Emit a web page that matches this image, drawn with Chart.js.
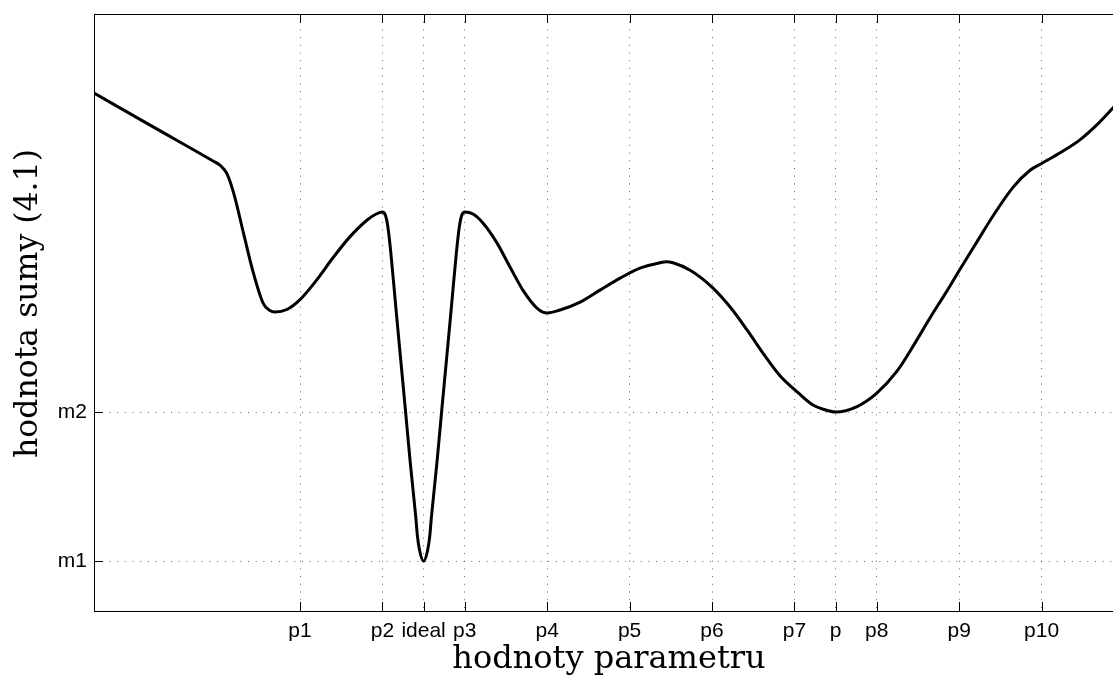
<!DOCTYPE html>
<html>
<head>
<meta charset="utf-8">
<script src="https://cdn.jsdelivr.net/npm/chart.js@4/dist/chart.umd.min.js"></script>
<style>
  html, body { margin: 0; padding: 0; background: #fff; overflow: hidden; width: 1113px; height: 676px; }
  canvas { display: block; }
</style>
</head>
<body>
<canvas id="c" width="1140" height="676" style="width:1140px;height:676px"></canvas>
<script>
// ---- data ----
const xValues = [0, 1.5, 2.9, 3.06, 3.22, 3.39, 3.63, 3.87, 4.11, 4.27, 4.39, 4.68, 5.0, 5.41, 5.80, 6.21, 6.63, 6.85, 7.0, 7.08, 7.13, 7.20, 7.32, 7.44, 7.56, 7.68, 7.81, 7.85, 7.90, 8.0, 8.10, 8.15, 8.19, 8.32, 8.44, 8.56, 8.68, 8.80, 8.87, 8.92, 9.0, 9.20, 9.44, 9.78, 10.10, 10.41, 10.75, 11.0, 11.31, 11.80, 12.28, 12.77, 13.25, 13.74, 13.90, 14.05, 14.47, 15.0, 15.44, 15.85, 16.24, 16.65, 17.06, 17.45, 17.72, 18.0, 18.52, 19.0, 19.49, 19.93, 20.29, 20.70, 21.02, 21.43, 21.82, 22.31, 22.72, 23.01, 23.45, 23.93, 24.34, 24.73, 25.0];
const yValues = [10.41, 9.70, 9.04, 8.96, 8.80, 8.40, 7.59, 6.79, 6.18, 6.04, 6.01, 6.06, 6.26, 6.66, 7.10, 7.52, 7.86, 7.98, 8.02, 7.94, 7.74, 7.24, 6.16, 5.09, 4.03, 2.95, 1.89, 1.51, 1.23, 1.0, 1.23, 1.51, 1.89, 2.95, 4.03, 5.09, 6.16, 7.24, 7.74, 7.94, 8.02, 7.98, 7.80, 7.40, 6.91, 6.45, 6.09, 5.99, 6.05, 6.21, 6.45, 6.69, 6.89, 7.00, 7.02, 7.00, 6.85, 6.51, 6.11, 5.65, 5.18, 4.73, 4.41, 4.14, 4.05, 4.0, 4.11, 4.38, 4.82, 5.39, 5.89, 6.43, 6.87, 7.42, 7.94, 8.52, 8.86, 9.00, 9.21, 9.47, 9.77, 10.11, 10.35];
const xTickValues = [5, 7, 8, 9, 11, 13, 15, 17, 18, 19, 21, 23];
const xTickLabels = ['p1', 'p2', 'ideal', 'p3', 'p4', 'p5', 'p6', 'p7', 'p', 'p8', 'p9', 'p10'];
const yTickValues = [1, 4];
const yTickLabels = ['m1', 'm2'];
const xTitle = 'hodnoty parametru';
const yTitle = 'hodnota sumy (4.1)';

const points = xValues.map((x, i) => ({ x, y: yValues[i] }));

const tickFont = { family: "'Liberation Sans', Arial, Helvetica, sans-serif", size: 21 };
const titleFamily = "'DejaVu Serif', serif";

const framePlugin = {
  id: 'frame',
  afterDatasetsDraw(chart) {
    const { ctx, chartArea: a, scales: { x, y } } = chart;
    ctx.save();
    ctx.setLineDash([]);
    ctx.strokeStyle = '#000';
    ctx.lineWidth = 1;
    ctx.strokeRect(a.left + 0.5, a.top + 0.5, a.right - a.left, a.bottom - a.top);
    const L = 9;
    ctx.beginPath();
    xTickValues.forEach(v => {
      const px = Math.round(x.getPixelForValue(v)) + 0.5;
      ctx.moveTo(px, a.bottom); ctx.lineTo(px, a.bottom - L);
      ctx.moveTo(px, a.top); ctx.lineTo(px, a.top + L);
    });
    yTickValues.forEach(v => {
      const py = Math.round(y.getPixelForValue(v)) + 0.5;
      ctx.moveTo(a.left, py); ctx.lineTo(a.left + L, py);
      ctx.moveTo(a.right, py); ctx.lineTo(a.right - L, py);
    });
    ctx.stroke();
    ctx.restore();
  },
  afterDraw(chart) {
    const { ctx, chartArea: a } = chart;
    ctx.save();
    ctx.fillStyle = '#000';
    ctx.font = "31.5px " + titleFamily;
    ctx.textAlign = 'center';
    ctx.textBaseline = 'middle';
    ctx.translate(29, (a.top + a.bottom) / 2 - 9);
    ctx.rotate(-Math.PI / 2);
    ctx.fillText(yTitle, 0, 0);
    ctx.restore();
  }
};

new Chart(document.getElementById('c'), {
  type: 'line',
  data: {
    datasets: [{
      data: points,
      borderColor: '#000',
      borderWidth: 3,
      pointRadius: 0,
      cubicInterpolationMode: 'monotone',
      fill: false
    }]
  },
  options: {
    responsive: false,
    animation: false,
    devicePixelRatio: 1,
    layout: { padding: { left: 0, top: 14, right: 16, bottom: 0 } },
    plugins: { legend: { display: false }, tooltip: { enabled: false } },
    scales: {
      x: {
        type: 'linear',
        min: 0, max: 25,
        afterBuildTicks: s => { s.ticks = xTickValues.map(v => ({ value: v })); },
        afterFit: s => { s.height = 65; s.paddingLeft = 0; s.paddingRight = 0; },
        ticks: {
          autoSkip: false, maxRotation: 0, minRotation: 0,
          color: '#000', font: tickFont, padding: 8,
          callback: (v, i) => xTickLabels[i]
        },
        grid: { color: 'rgba(0,0,0,0.6)', lineWidth: 1, drawTicks: false },
        border: { display: false, dash: [1, 6.7] },
        title: { display: true, text: xTitle, color: '#000', font: { family: titleFamily, size: 32, lineHeight: 1.0 }, padding: { top: 0, bottom: 0 } }
      },
      y: {
        type: 'linear',
        min: 0, max: 12,
        afterBuildTicks: s => { s.ticks = yTickValues.map(v => ({ value: v })); },
        afterFit: s => { s.width = 94; s.paddingTop = 0; s.paddingBottom = 0; },
        ticks: {
          autoSkip: false, color: '#000', font: tickFont, padding: 7,
          callback: (v, i) => yTickLabels[i]
        },
        grid: { color: 'rgba(0,0,0,0.6)', lineWidth: 1, drawTicks: false },
        border: { display: false, dash: [1, 6.7] }
      }
    }
  },
  plugins: [framePlugin]
});
</script>
</body>
</html>
